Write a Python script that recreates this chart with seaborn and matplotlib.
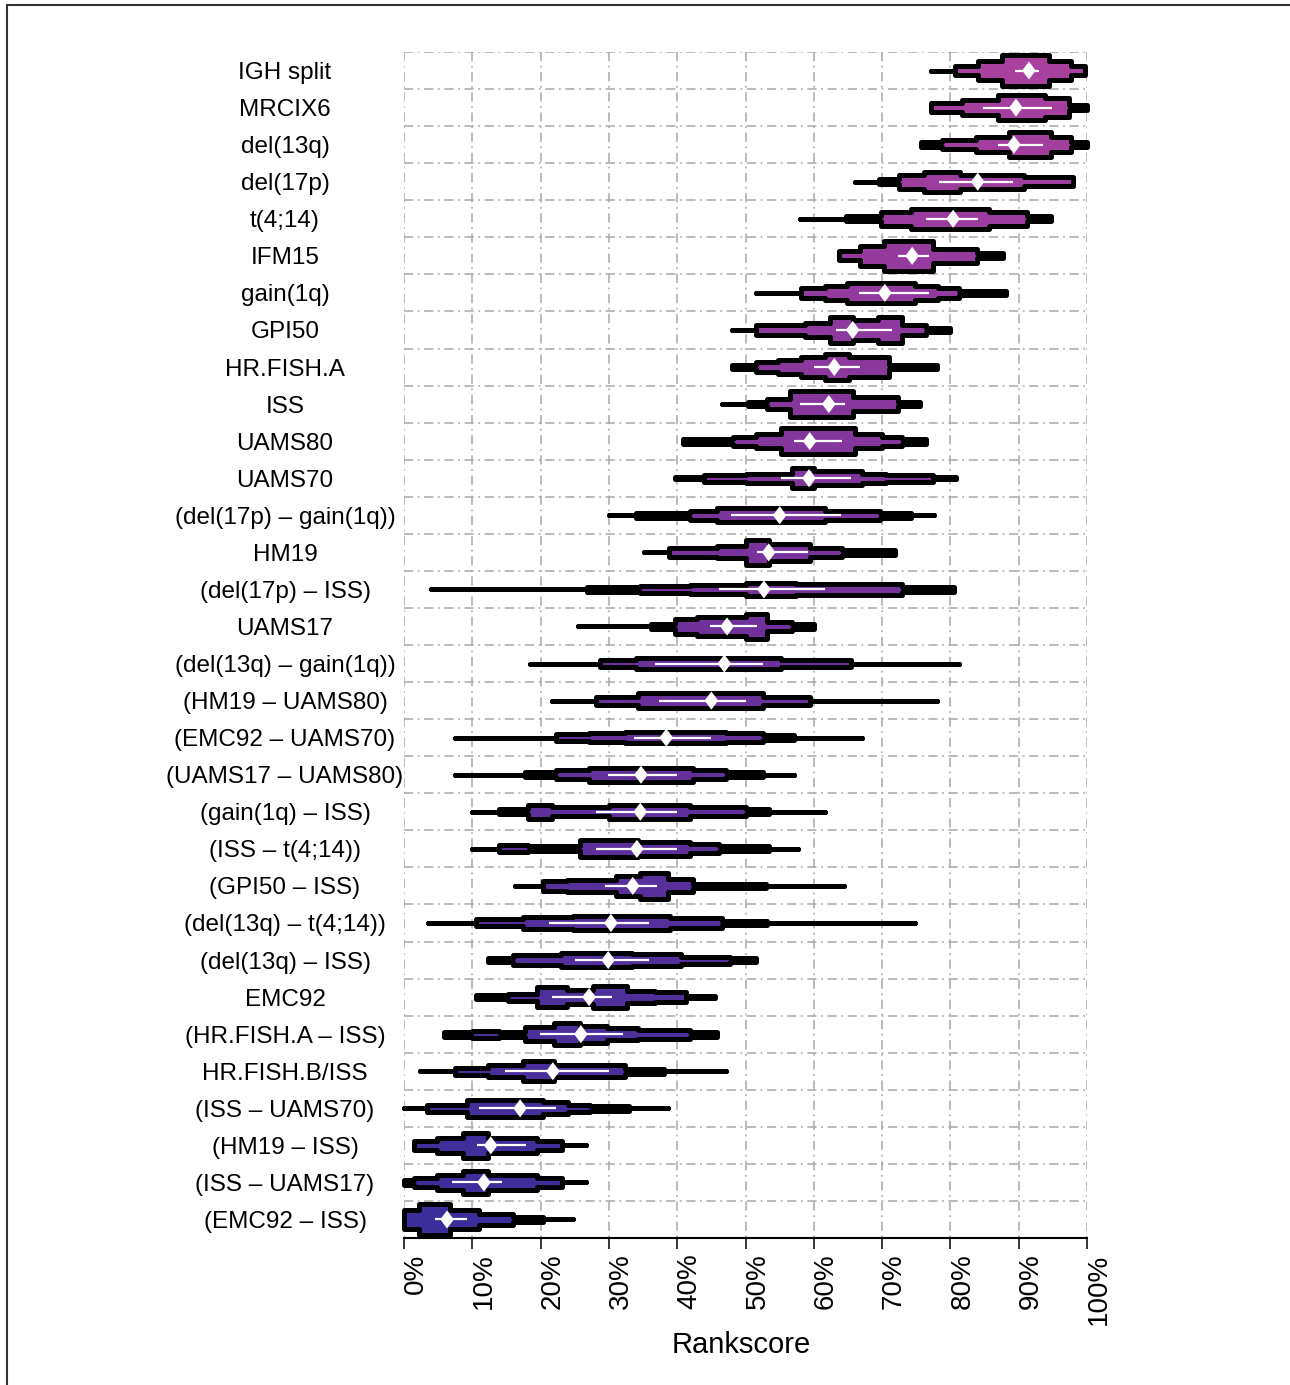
import numpy as np
import matplotlib
matplotlib.use('Agg')
import matplotlib.pyplot as plt
from matplotlib.colors import LinearSegmentedColormap
from matplotlib.lines import Line2D
from matplotlib.transforms import ScaledTranslation
import seaborn as sns

# ========== 风格 ==========
sns.set_style('white')
plt.rcParams['font.family'] = ['Liberation Sans', 'DejaVu Sans']
plt.rcParams['text.color'] = 'black'
plt.rcParams['xtick.color'] = 'black'
plt.rcParams['ytick.color'] = 'black'

# ========== 数据 ==========
LABELS = [
    'IGH split', 'MRCIX6', 'del(13q)', 'del(17p)', 't(4;14)', 'IFM15',
    'gain(1q)', 'GPI50', 'HR.FISH.A', 'ISS', 'UAMS80', 'UAMS70',
    '(del(17p) – gain(1q))', 'HM19', '(del(17p) – ISS)', 'UAMS17',
    '(del(13q) – gain(1q))', '(HM19 – UAMS80)', '(EMC92 – UAMS70)',
    '(UAMS17 – UAMS80)', '(gain(1q) – ISS)', '(ISS – t(4;14))',
    '(GPI50 – ISS)', '(del(13q) – t(4;14))', '(del(13q) – ISS)', 'EMC92',
    '(HR.FISH.A – ISS)', 'HR.FISH.B/ISS', '(ISS – UAMS70)', '(HM19 – ISS)',
    '(ISS – UAMS17)', '(EMC92 – ISS)',
]

MEANS = [91.5, 89.6, 89.3, 84.0, 80.4, 74.4, 70.4, 65.7, 63.0, 62.2, 59.4,
         59.3, 55.0, 53.4, 52.7, 47.3, 46.9, 45.0, 38.4, 34.7, 34.6, 34.1,
         33.5, 30.3, 29.9, 27.1, 25.9, 21.8, 17.0, 12.7, 11.7, 6.3]

CI_LO = [89.5, 84.8, 86.9, 78.4, 76.5, 72.4, 66.6, 63.2, 60.0, 58.0, 57.1,
         55.2, 47.9, 51.7, 46.1, 44.8, 36.8, 37.4, 33.7, 29.8, 28.1, 28.1,
         29.5, 21.3, 25.0, 21.6, 19.9, 14.8, 11.0, 10.7, 7.1, 4.5]
CI_HI = [93.0, 94.9, 93.5, 89.2, 84.0, 76.8, 76.8, 71.5, 66.8, 64.5, 64.2,
         65.5, 64.0, 59.2, 61.6, 51.7, 52.6, 50.0, 45.0, 40.0, 40.0, 40.0,
         37.1, 35.8, 35.8, 30.5, 32.1, 30.0, 22.3, 17.9, 14.3, 9.2]

# 每行的分段边界 (Rankscore %) 与每段的密度等级 (0 = 细线)
EDGES = [
    [77.1, 80.7, 84.0, 87.6, 94.4, 97.7, 99.7],
    [77.1, 81.7, 86.9, 93.8, 97.4, 100.0],
    [75.7, 78.8, 83.7, 88.6, 94.8, 97.7, 100.0],
    [66.0, 69.6, 72.5, 76.1, 81.4, 90.8, 98.0],
    [58.0, 64.7, 69.9, 74.2, 85.6, 91.2, 94.8],
    [63.7, 66.8, 70.3, 77.4, 83.9, 87.7],
    [51.6, 58.1, 61.6, 64.8, 74.8, 78.2, 81.3, 88.1],
    [48.0, 51.6, 58.7, 62.3, 65.8, 69.4, 72.9, 76.5, 80.0],
    [48.0, 51.6, 54.8, 58.1, 61.6, 65.2, 71.0, 78.0],
    [46.5, 50.3, 53.2, 56.5, 65.8, 72.3, 75.5],
    [40.8, 48.1, 51.6, 55.2, 66.1, 70.0, 72.9, 76.5],
    [39.7, 43.9, 50.0, 56.8, 60.0, 67.1, 70.6, 77.4, 80.8],
    [30.0, 33.9, 41.9, 45.8, 61.6, 69.7, 74.2, 77.6],
    [35.2, 38.8, 45.8, 50.0, 53.5, 59.4, 64.2, 71.9],
    [3.9, 26.8, 34.5, 41.9, 50.0, 57.4, 72.9, 80.5],
    [25.5, 36.1, 39.7, 42.9, 50.0, 53.2, 56.8, 60.0],
    [18.4, 28.7, 33.9, 55.2, 65.5, 81.3],
    [21.6, 28.1, 34.2, 52.6, 59.4, 78.1],
    [7.4, 22.3, 27.1, 32.3, 47.1, 52.6, 57.1, 67.1],
    [7.4, 17.7, 22.3, 27.1, 42.3, 47.1, 52.6, 57.1],
    [10.0, 13.9, 18.1, 21.6, 30.0, 41.9, 50.0, 53.5, 61.6],
    [10.0, 13.9, 18.1, 25.8, 34.2, 41.9, 46.1, 53.5, 57.7],
    [16.3, 20.3, 23.9, 31.0, 34.5, 38.7, 42.3, 53.0, 64.4],
    [3.5, 10.6, 17.4, 24.8, 39.0, 46.5, 53.2, 74.8],
    [12.3, 16.0, 23.0, 33.4, 40.6, 47.7, 51.5],
    [10.6, 15.2, 19.4, 23.9, 27.7, 32.6, 36.8, 41.3, 45.5],
    [5.8, 10.0, 13.9, 17.7, 21.9, 25.8, 29.7, 34.2, 41.9, 45.8],
    [2.3, 7.4, 12.3, 17.4, 21.9, 32.3, 38.1, 47.1],
    [0.0, 3.3, 9.2, 20.4, 24.0, 27.2, 33.0, 38.7],
    [1.5, 4.8, 8.6, 12.3, 19.4, 23.1, 26.7],
    [0.0, 1.4, 4.8, 8.6, 12.3, 19.4, 23.1, 26.7],
    [0.0, 2.2, 6.7, 11.0, 16.0, 20.4, 24.7],
]
LEVELS = [
    [0, 2, 4, 6, 4, 2],
    [2, 3, 5, 4, 1],
    [1, 2, 3, 5, 3, 1],
    [0, 1, 3, 4, 3, 2],
    [0, 1, 3, 4, 3, 1],
    [2, 4, 6, 3, 1],
    [0, 2, 3, 4, 3, 2, 1],
    [0, 2, 3, 5, 4, 5, 2, 1],
    [1, 2, 3, 4, 5, 4, 1],
    [0, 1, 2, 5, 3, 1],
    [1, 2, 3, 5, 3, 2, 1],
    [0.5, 1.5, 2, 4, 3, 2, 1.5, 0.5],
    [0, 1, 2, 3, 2, 1, 0],
    [0, 2, 2.5, 5, 3.5, 2, 1],
    [0, 1, 1.5, 2, 2.8, 2.2, 1],
    [0, 1, 3, 4, 5, 2, 1],
    [0, 1.5, 2.2, 1.5, 0],
    [0, 1.7, 3, 1.7, 0],
    [0, 1.5, 1.8, 2.3, 1.8, 1, 0],
    [0, 1, 2, 3, 2, 1, 0],
    [0, 1, 3, 2, 3, 2, 1, 0],
    [0, 1.5, 1, 3.5, 3, 2, 1, 0],
    [0, 2, 2.5, 4, 5, 2.7, 1, 0],
    [0, 1.5, 2.5, 3, 2, 1, 0],
    [1, 2, 3, 2.5, 1.5, 1],
    [1, 1.5, 4, 3, 4.5, 2.5, 2, 0.5],
    [1, 1.5, 1, 3, 4.5, 3.5, 2.5, 2, 1],
    [0, 1.5, 2.5, 4, 2.5, 1, 0],
    [0, 1.5, 3.5, 2.5, 1.5, 1, 0],
    [2, 3, 5, 3, 2, 0],
    [1, 2, 3, 4.5, 3, 2, 0],
    [4, 6, 4, 2.5, 1, 0],
]

XTICKS = [0, 10, 20, 30, 40, 50, 60, 70, 80, 90, 100]

# ========== 样式常量 ==========
W_PX, H_PX, DPI = 1290, 1385, 100
AX_L, AX_R, AX_T, AX_B = 404, 1087, 52, 1238
HALF_PX = [0, 2.4, 4.6, 7.2, 9.8, 12.8, 15.2]   # 等级 -> 半高 (像素)
OUTLINE_PT = 3.6
GRID_KW = dict(color='#A8A8A8', lw=1.1, linestyle=(0, (6, 3, 1.2, 3)), zorder=0)
CMAP = LinearSegmentedColormap.from_list('pm', ['#A8409E', '#6E309B', '#3B2E9A'])
DIAMOND = [(0, 1), (0.75, 0), (0, -1), (-0.75, 0), (0, 1)]


def draw_violin(ax, i, edges, levels, color, px_per_row):
    """绘制阶梯状的小提琴形状"""
    half = np.interp(levels, np.arange(len(HALF_PX)), HALF_PX) / px_per_row
    xs_top, ys_top = [], []
    for k, h in enumerate(half):
        xs_top += [edges[k], edges[k + 1]]
        ys_top += [i - h, i - h]
    xs = xs_top + xs_top[::-1]
    ys = ys_top + [2 * i - y for y in ys_top[::-1]]
    ax.fill(xs, ys, facecolor=color, edgecolor='black', lw=OUTLINE_PT,
            joinstyle='round', clip_on=False, zorder=3)


def main():
    fig = plt.figure(figsize=(W_PX / DPI, H_PX / DPI), dpi=DPI)
    ax = fig.add_axes([AX_L / W_PX, 1 - AX_B / H_PX,
                       (AX_R - AX_L) / W_PX, (AX_B - AX_T) / H_PX])
    n = len(LABELS)
    rows = np.arange(n)
    px_per_row = (AX_B - AX_T) / n

    ax.set_xlim(0, 100)
    ax.set_ylim(n - 0.5, -0.5)

    # 网格线 (点划线)
    ax.vlines(XTICKS, -0.5, n - 0.5, **GRID_KW)
    ax.hlines(np.arange(n) - 0.5, 0, 100, **GRID_KW)

    colors = [CMAP(t) for t in np.linspace(0, 1, n)]
    for i in rows:
        draw_violin(ax, i, EDGES[i], LEVELS[i], colors[i], px_per_row)

    ax.hlines(rows, CI_LO, CI_HI, color='white', lw=1.6, zorder=4)
    sns.scatterplot(x=MEANS, y=rows, marker=DIAMOND, s=170, color='white',
                    edgecolor='none', linewidth=0, zorder=5, ax=ax, legend=False)

    # 坐标轴
    for side in ['left', 'right', 'top']:
        ax.spines[side].set_visible(False)
    ax.spines['bottom'].set_linewidth(1.5)
    ax.spines['bottom'].set_color('black')

    ax.set_yticks(rows)
    ax.set_yticklabels(LABELS, fontsize=17.5, ha='center', color='black')
    ax.tick_params(axis='y', length=0, pad=119 * 72 / DPI)

    ax.set_xticks(XTICKS)
    ax.set_xticklabels([f'{v}%' for v in XTICKS], rotation=90, fontsize=20,
                       va='top', ha='center', color='black')
    ax.tick_params(axis='x', bottom=True, direction='out', length=8, width=1.1,
                   color='black', pad=3)
    offset = ScaledTranslation(12 / DPI, 0, fig.dpi_scale_trans)
    for lbl in ax.get_xticklabels():
        lbl.set_transform(lbl.get_transform() + offset)
    ax.set_xlabel('')
    ax.set_ylabel('')

    fig.text(741 / W_PX, 1 - 1345 / H_PX, 'Rankscore', ha='center', va='center',
             fontsize=21, color='black')

    # 外框线
    fig.add_artist(Line2D([7 / W_PX, 1], [1 - 5 / H_PX, 1 - 5 / H_PX],
                          transform=fig.transFigure, color='#333333', lw=1.5))
    fig.add_artist(Line2D([7 / W_PX, 7 / W_PX], [0, 1 - 5 / H_PX],
                          transform=fig.transFigure, color='#333333', lw=1.5))

    fig.savefig('out.png', dpi=DPI)
    plt.close(fig)


if __name__ == '__main__':
    main()
